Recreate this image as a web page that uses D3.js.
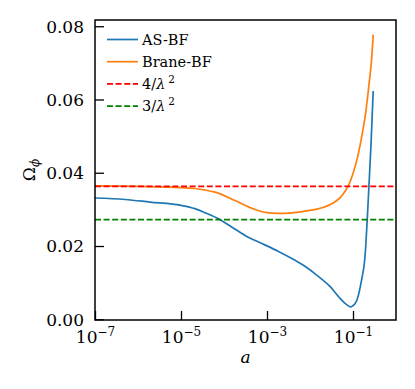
<!DOCTYPE html>
<html><head><meta charset="utf-8">
<script src="https://cdn.jsdelivr.net/npm/d3@7"></script>
<style>body{margin:0;background:#fff}svg{display:block}svg text{font-family:'DejaVu Serif','Liberation Serif',serif !important;fill:#000}</style>
</head><body>
<script>
const aBlue = [1e-7, 5e-7, 1.9e-6, 1e-5, 2.1e-5, 3.6e-5, 8.1e-5, 1.6e-4, 3.1e-4, 7.6e-4, 1.8e-3, 4.5e-3, 6.9e-3, 1.45e-2, 2.95e-2, 5.0e-2, 7.1e-2, 8.9e-2, 0.1, 0.123, 0.158, 0.19, 0.214, 0.234, 0.263, 0.295];
const omegaASBF = [0.0331,0.0327,0.0320,0.0311,0.0302,0.0291,0.0272,0.0250,0.0229,0.0207,0.0186,0.0161,0.0148,0.0120,0.0089,0.0057,0.0040,0.0034,0.0037,0.0052,0.0107,0.0170,0.0270,0.0360,0.0480,0.0623];
const aOrange = [1e-7, 1e-6, 7.2e-6, 2.1e-5, 3.6e-5, 6.2e-5, 1.8e-4, 5.2e-4, 1e-3, 1.8e-3, 3.4e-3, 7.6e-3, 2.0e-2, 0.0355, 0.0501, 0.0661, 0.0832, 0.1, 0.126, 0.166, 0.2, 0.24, 0.269, 0.295];
const omegaBraneBF = [0.0364,0.0363,0.0360,0.0357,0.0353,0.0347,0.0324,0.0300,0.0291,0.0289,0.0290,0.0295,0.0305,0.0318,0.0332,0.0350,0.0372,0.0398,0.0440,0.0510,0.0569,0.0650,0.0705,0.0777];
const hLines = [{label:"4/", value:0.03628, color:"#ff0000"}, {label:"3/", value:0.02721, color:"#008000"}];
const xTicks = [1e-7, 1e-5, 1e-3, 1e-1];
const xTickExp = ["−7","−5","−3","−1"];
const yTicks = [0.00, 0.02, 0.04, 0.06, 0.08];

const W=415, H=389, L=95, R=396, T=20, B=320;
const FONT = "DejaVu Serif";
const svg = d3.select("body").append("svg").attr("width",W).attr("height",H);
const x = d3.scaleLog().domain([1e-7, 1]).range([L, R]);
const y = d3.scaleLinear().domain([-0.0002, 0.0817]).range([B, T]);

const line = d3.line().x(d=>x(d[0])).y(d=>y(d[1])).curve(d3.curveMonotoneX);
svg.append("path").datum(aBlue.map((a,i)=>[a,omegaASBF[i]])).attr("d",line)
  .attr("fill","none").attr("stroke","#1f77b4").attr("stroke-width",1.7);
svg.append("path").datum(aOrange.map((a,i)=>[a,omegaBraneBF[i]])).attr("d",line)
  .attr("fill","none").attr("stroke","#ff7f0e").attr("stroke-width",1.7);
hLines.forEach(h=>{
  svg.append("line").attr("x1",L).attr("x2",R).attr("y1",y(h.value)).attr("y2",y(h.value))
    .attr("stroke",h.color).attr("stroke-width",1.7).attr("stroke-dasharray","6,2.6");
});

// axes
const xAxis = d3.axisBottom(x).tickValues(xTicks).tickSizeInner(-9).tickSizeOuter(0).tickFormat("");
const gx = svg.append("g").attr("transform",`translate(0,${B})`).call(xAxis).attr("font-family",FONT);
gx.select(".domain").remove();
gx.selectAll(".tick line").attr("stroke","#000").attr("stroke-width",1.3);
gx.selectAll(".tick text").remove();
gx.selectAll(".tick").each(function(d,i){
  const t = d3.select(this).append("text").attr("y",23).attr("text-anchor","middle")
    .attr("font-family",FONT).attr("font-size",17);
  t.append("tspan").text("10");
  t.append("tspan").attr("dy",-7).attr("font-size",12).text(xTickExp[i]);
});
const yAxis = d3.axisLeft(y).tickValues(yTicks).tickSizeInner(-9).tickSizeOuter(0).tickFormat(d3.format(".2f"));
const gy = svg.append("g").attr("transform",`translate(${L},0)`).call(yAxis).attr("font-family",FONT).attr("font-size",17);
gy.select(".domain").remove();
gy.selectAll(".tick line").attr("stroke","#000").attr("stroke-width",1.3);
gy.selectAll(".tick text").attr("x",-11).attr("dy","0.35em").attr("font-family",FONT).attr("font-size",17);

svg.append("rect").attr("x",L).attr("y",T).attr("width",R-L).attr("height",B-T)
  .attr("fill","none").attr("stroke","#000").attr("stroke-width",1.5);

// labels
svg.append("text").attr("x",(L+R)/2).attr("y",363).attr("text-anchor","middle")
  .attr("font-family",FONT).attr("font-size",17).attr("font-style","italic").text("a");
const yl = svg.append("text").attr("transform",`translate(35,${(T+B)/2}) rotate(-90)`).attr("text-anchor","middle")
  .attr("font-family",FONT).attr("font-size",17);
yl.append("tspan").text("Ω");
yl.append("tspan").attr("dy",4).attr("font-size",12).attr("font-style","italic").text("ϕ");

// legend
const leg = [
  {name:"AS-BF", color:"#1f77b4", dash:null},
  {name:"Brane-BF", color:"#ff7f0e", dash:null},
  {name:hLines[0].label, color:hLines[0].color, dash:"6,2.6", math:true},
  {name:hLines[1].label, color:hLines[1].color, dash:"6,2.6", math:true}
];
leg.forEach((d,i)=>{
  const yy = 39.5 + i*22.2;
  svg.append("line").attr("x1",107).attr("x2",138).attr("y1",yy).attr("y2",yy)
    .attr("stroke",d.color).attr("stroke-width",1.7).attr("stroke-dasharray",d.dash);
  const t = svg.append("text").attr("x",142).attr("y",yy+5).attr("font-family",FONT).attr("font-size",14.5);
  if(d.math){
    t.append("tspan").text(d.name);
    t.append("tspan").attr("font-style","italic").text("λ");
    t.append("tspan").attr("dx",3).attr("dy",-6).attr("font-size",10.5).text("2");
  } else t.text(d.name);
});
</script>
</body></html>
